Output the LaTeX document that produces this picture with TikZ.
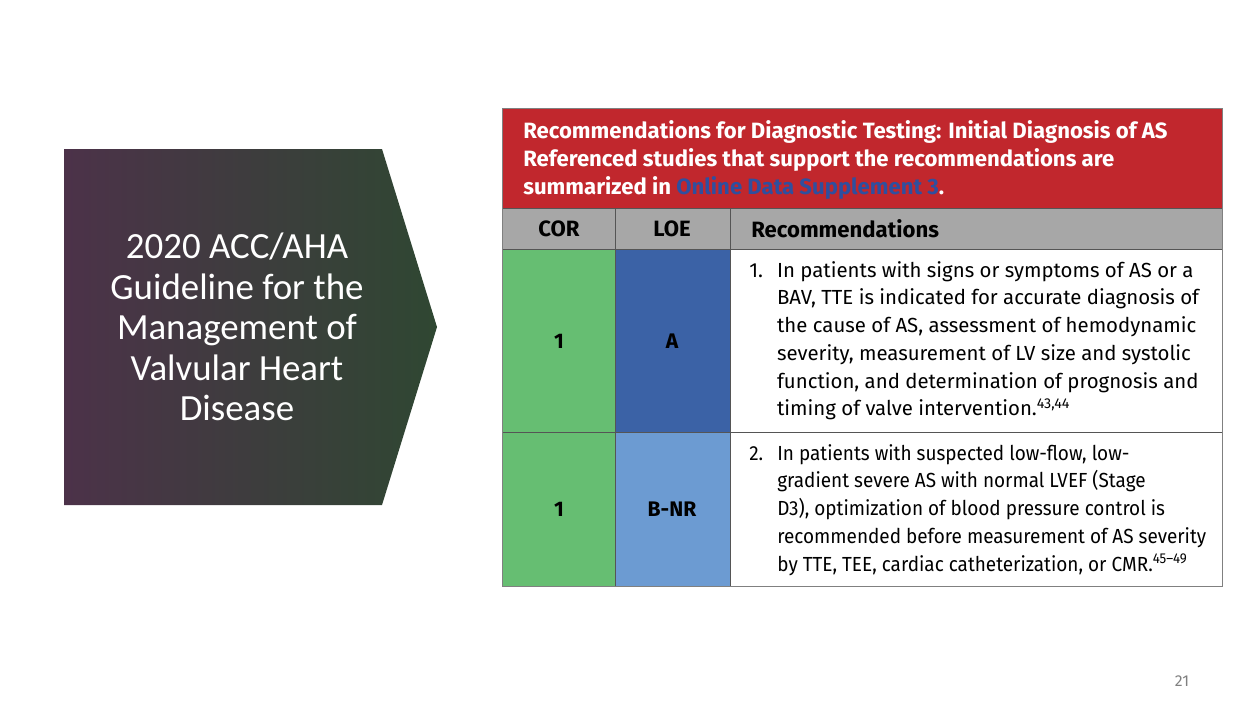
\documentclass[tikz,border=0pt]{standalone}
\usepackage{fontspec}
\setmainfont{Fira Sans}
\newfontfamily\calibri{Carlito}
\newfontfamily\narrowsans[FakeStretch=0.93,Ligatures=TeX]{Fira Sans}
\usepackage{tikz}

\definecolor{arrowpurple}{HTML}{4C3249}
\definecolor{arrowgreen}{HTML}{2F4732}
\definecolor{hdrred}{HTML}{C1272D}
\definecolor{hdrgray}{HTML}{A7A7A7}
\definecolor{corgreen}{HTML}{66BE72}
\definecolor{loedark}{HTML}{3B62A6}
\definecolor{loelight}{HTML}{6C9BD2}
\definecolor{linkblue}{HTML}{2F4F9F}
\definecolor{gridgray}{HTML}{555555}

\begin{document}
\begin{tikzpicture}[x=0.02cm, y=-0.02cm,
    hdrtext/.style={anchor=west, inner sep=0pt, text=white, align=left,
        font=\bfseries\fontsize{12.6pt}{15.9pt}\selectfont},
    colhead/.style={inner sep=0pt, font=\bfseries\fontsize{12.6pt}{14pt}\selectfont},
    celltext/.style={inner sep=0pt, font=\bfseries\fontsize{12pt}{14pt}\selectfont},
    bodytext/.style={anchor=west, inner sep=0pt, align=left,
        font=\fontsize{11.6pt}{15.8pt}\selectfont}]
    \useasboundingbox (0,0) rectangle (1253,701);

    % Title arrow
    \shade[left color=arrowpurple, right color=arrowgreen]
        (64,149) -- (382,149) -- (437,327) -- (382,505) -- (64,505) -- cycle;
    \node[white, align=center, font=\calibri\fontsize{21pt}{23.1pt}\selectfont] (title) at (237,327)
        {2020 ACC/AHA\\Guideline for the\\Management of\\Valvular Heart\\Disease};

    % Table fills
    \fill[hdrred] (502,108) rectangle (1222,208);
    \fill[hdrgray] (502,208) rectangle (1222,249);
    \fill[corgreen] (502,249) rectangle (615,586);
    \fill[loedark] (615,249) rectangle (730,432);
    \fill[loelight] (615,432) rectangle (730,586);

    % Grid
    \draw[gridgray, thin] (502,208) -- (1222,208);
    \draw[gridgray, thin] (502,249) -- (1222,249);
    \draw[gridgray, thin] (502,432) -- (1222,432);
    \draw[gridgray, thin] (615,208) -- (615,586);
    \draw[gridgray, thin] (730,208) -- (730,586);
    \draw[gray, thin] (502,108) rectangle (1222,586);

    % Header
    \node[hdrtext] (hdr) at (523,160) {Recommendations for Diagnostic Testing: Initial Diagnosis of AS\\
        Referenced studies that support the recommendations are\\
        summarized in \textcolor{linkblue}{Online Data Supplement 3}.};

    % Column heads
    \node[colhead] (corhead) at (559,229) {COR};
    \node[colhead] (loehead) at (672,229) {LOE};
    \node[colhead, anchor=west] (rechead) at (751,229) {Recommendations};

    % Row 1
    \node[celltext] (cor1) at (559,341) {1};
    \node[celltext] (loe1) at (672,341) {A};
    \node[bodytext] (rec1) at (749,341) {\begin{tabular}{@{}l@{\hspace{8pt}}l@{}}
        1. & In patients with signs or symptoms of AS or a\\
           & BAV, TTE is indicated for accurate diagnosis of\\
           & the cause of AS, assessment of hemodynamic\\
           & severity, measurement of LV size and systolic\\
           & function, and determination of prognosis and\\
           & timing of valve intervention.\textsuperscript{43,44}
        \end{tabular}};

    % Row 2
    \node[celltext] (cor2) at (559,509) {1};
    \node[celltext] (loe2) at (672,509) {B-NR};
    \node[bodytext, font=\narrowsans\fontsize{11.6pt}{15.8pt}\selectfont] (rec2) at (749,510) {\begin{tabular}{@{}l@{\hspace{8pt}}l@{}}
        2. & In patients with suspected low-flow, low-\\
           & gradient severe AS with normal LVEF (Stage\\
           & D3), optimization of blood pressure control is\\
           & recommended before measurement of AS severity\\
           & by TTE, TEE, cardiac catheterization, or CMR.\textsuperscript{45\textendash49}
        \end{tabular}};

    % Page number
    \node[text=gray, font=\fontsize{9pt}{11pt}\selectfont] (pagenum) at (1182,681) {21};
\end{tikzpicture}
\end{document}
